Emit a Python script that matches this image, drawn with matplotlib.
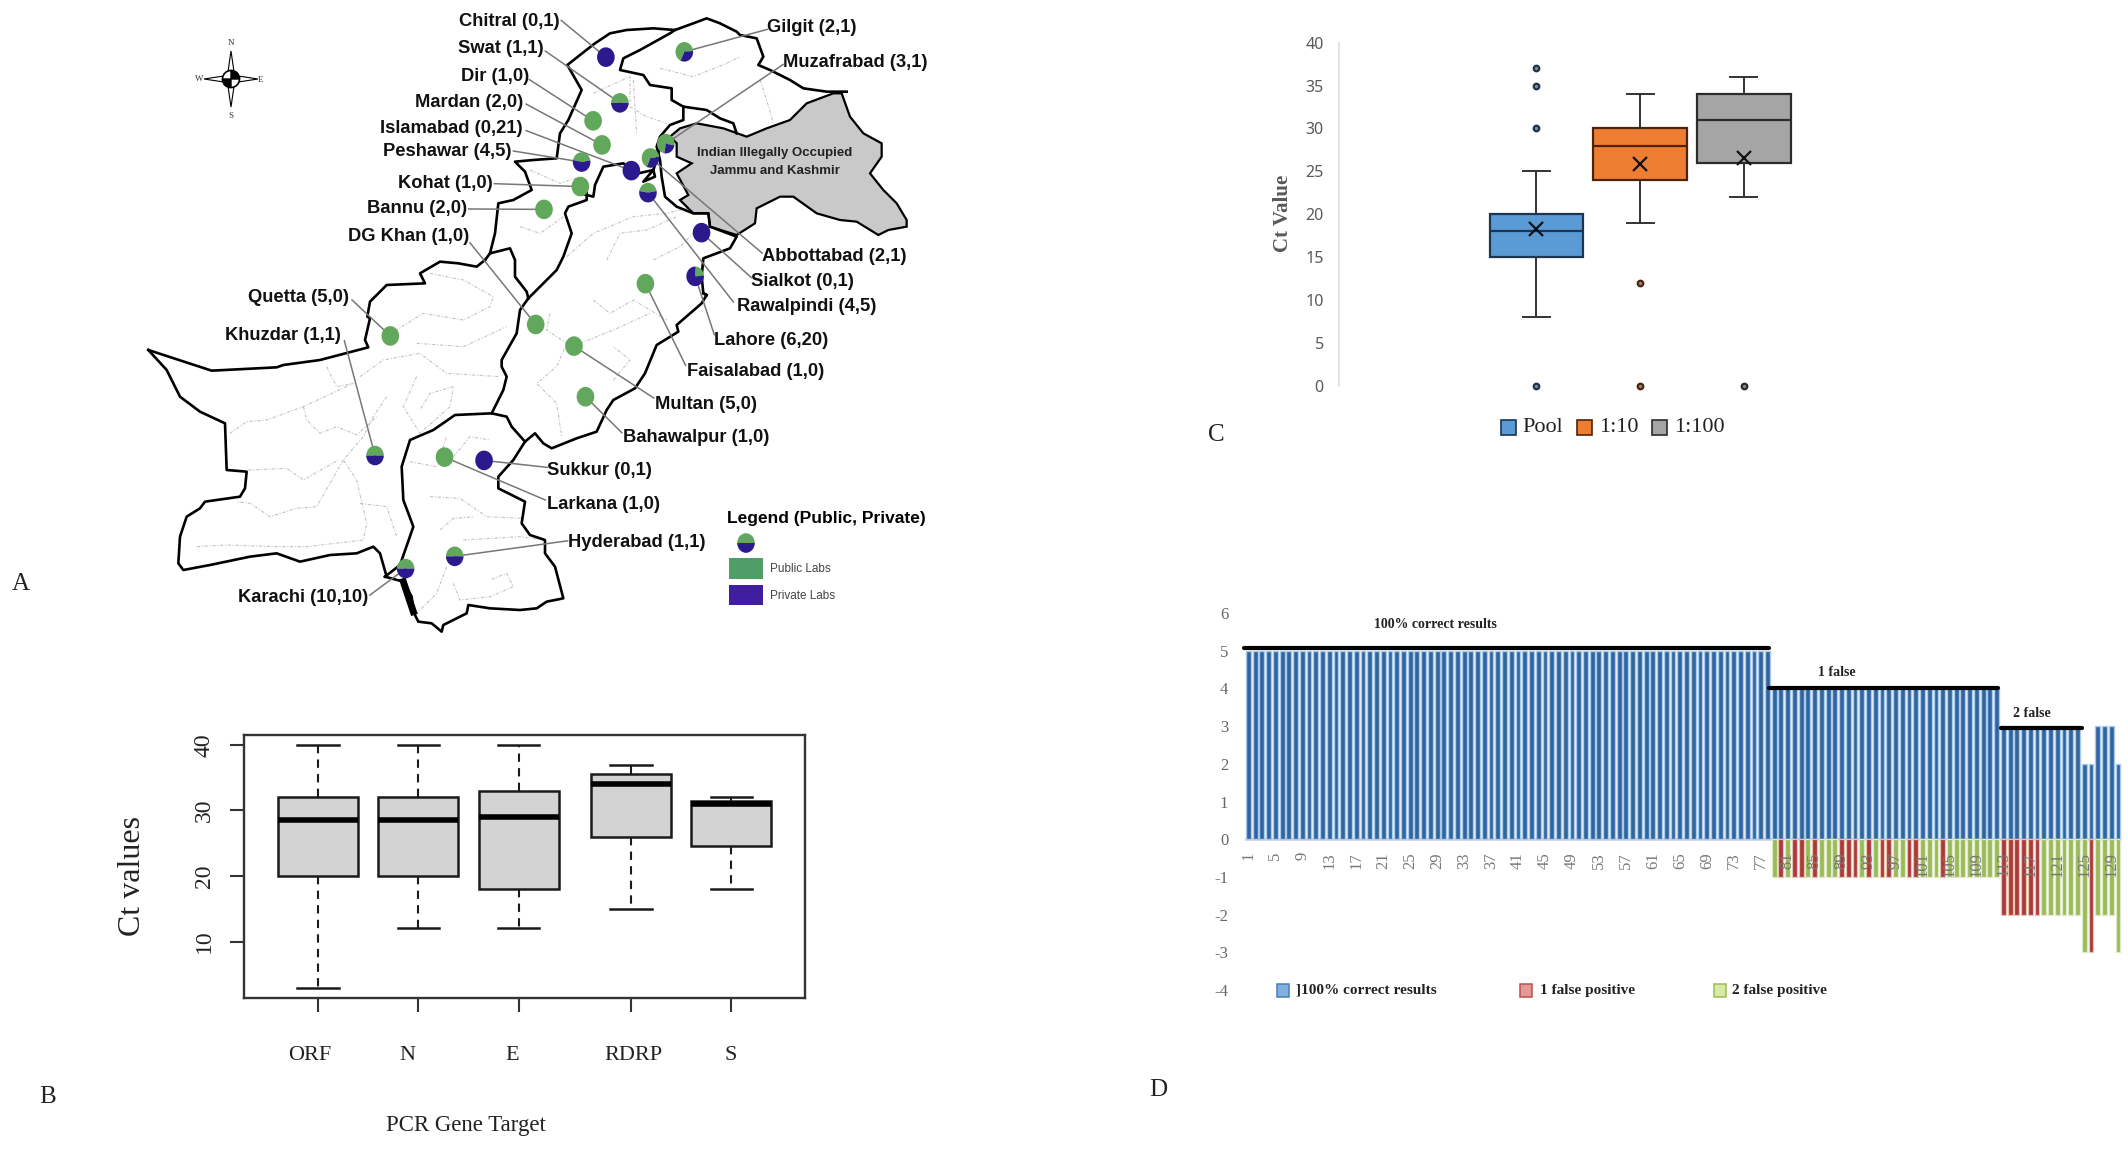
import matplotlib
matplotlib.use("Agg")
import matplotlib.pyplot as plt
from matplotlib.patches import Wedge, Rectangle, Polygon, Circle
from matplotlib.transforms import Affine2D

W, H = 2128, 1151
SERIF = "Liberation Serif"
SANS = "Liberation Sans"

# ---------------------------------------------------------------------
# A) map: labs per city (public, private)
# ---------------------------------------------------------------------
cities = ["Chitral", "Gilgit", "Swat", "Dir", "Mardan", "Islamabad", "Peshawar", "Kohat", "Bannu",
          "DG Khan", "Quetta", "Khuzdar", "Muzafrabad", "Abbottabad", "Sialkot", "Rawalpindi",
          "Lahore", "Faisalabad", "Multan", "Bahawalpur", "Sukkur", "Larkana", "Hyderabad", "Karachi"]
public_labs = [0, 2, 1, 1, 2, 0, 4, 1, 2, 1, 5, 1, 3, 2, 0, 4, 6, 1, 5, 1, 0, 1, 1, 10]
private_labs = [1, 1, 1, 0, 0, 21, 5, 0, 0, 0, 0, 1, 1, 1, 1, 5, 20, 0, 0, 0, 1, 0, 1, 10]
city_x = [950, 1073, 972, 930, 944, 990, 912, 910, 853, 840, 612, 588, 1044, 1020, 1100, 1016,
          1090, 1012, 900, 918, 759, 697, 713, 636]
city_y = [140, 127, 252, 296, 355, 418, 397, 457, 513, 795, 823, 1116, 352, 387, 570, 472,
          677, 695, 848, 972, 1128, 1120, 1363, 1393]
# label anchor: x, y, horizontal alignment
label_x = [878, 1203, 853, 830, 820, 820, 802, 772, 732, 735, 548, 535, 1228, 1195, 1178, 1155,
           1120, 1077, 1027, 977, 858, 857, 890, 578]
label_y = [53, 68, 120, 188, 250, 315, 372, 450, 512, 580, 728, 822, 152, 628, 690, 752,
           835, 910, 992, 1072, 1152, 1237, 1328, 1463]
label_ha = ["right", "left", "right", "right", "right", "right", "right", "right", "right", "right",
            "right", "right", "left", "left", "left", "left", "left", "left", "left", "left",
            "left", "left", "left", "right"]
leader_x = [880, 1203, 855, 830, 825, 825, 805, 775, 735, 737, 552, 540, 1228, 1195, 1178, 1150,
            1120, 1075, 1025, 975, 858, 855, 890, 580]
leader_y = [50, 72, 125, 195, 255, 320, 370, 450, 512, 595, 735, 835, 158, 620, 680, 740,
            820, 895, 975, 1060, 1145, 1225, 1325, 1458]
green_facing = {"Gilgit": 125, "Muzafrabad": 125, "Abbottabad": 125, "Lahore": 45}

kp_west_n = [(30, 760), (45, 700), (55, 610), (100, 600), (155, 570), (135, 515),
             (105, 485), (160, 480), (230, 475), (240, 400), (265, 360), (305, 270), (262, 195), (300, 165),
             (345, 130), (390, 100), (440, 90), (520, 85), (585, 90), (640, 70), (680, 55), (720, 70),
             (770, 95), (780, 105), (830, 115), (850, 170), (835, 195), (870, 210), (930, 240), (970, 265),
             (1040, 275), (1100, 275)]
baloch_kp_n = [(15, 780), (30, 760), (90, 745), (105, 780), (105, 830), (140, 875), (145, 895)]
gilgit_inner_n = [(585, 90), (570, 100), (480, 150), (430, 175), (420, 210), (490, 225), (510, 255), (575, 265),
                  (575, 300), (610, 320), (680, 330), (720, 355), (760, 370), (770, 400)]
ajk_n = [(610, 320), (610, 360), (570, 375), (540, 410), (530, 440), (540, 480), (545, 530), (555, 590),
         (590, 620), (640, 640), (685, 640), (690, 680)]
occupied_n = [(600, 385), (650, 370), (730, 385), (800, 410), (860, 385), (930, 360), (980, 310), (1060, 280),
              (1085, 280), (1110, 350), (1150, 400), (1205, 430), (1205, 470), (1170, 520), (1210, 570),
              (1250, 610), (1280, 660), (1280, 680), (1225, 690), (1195, 705), (1130, 665), (1080, 660),
              (1010, 640), (940, 590), (900, 590), (830, 625), (825, 670), (770, 705), (690, 680), (685, 640),
              (640, 640), (600, 600), (625, 585), (590, 520), (635, 490), (590, 470), (590, 430), (570, 410)]
kp_punjab_n = [(145, 895), (180, 860), (230, 810), (250, 770), (275, 700), (255, 640), (265, 620), (320, 600),
               (320, 570), (300, 580), (340, 590), (345, 555), (370, 500), (430, 490), (475, 520), (520, 510),
               (525, 530), (490, 545), (520, 510), (530, 480), (540, 440)]
punjab_india_n = [(690, 680), (770, 710), (750, 745), (670, 775), (665, 830), (670, 880), (680, 885)]
punjab_south_se = [(970, 40), (980, 45), (965, 70), (890, 135), (895, 155), (830, 195), (795, 280), (765, 325),
                   (700, 360), (680, 390), (650, 455), (590, 475), (515, 505), (490, 490), (465, 460), (435, 485),
                   (400, 540), (355, 590), (355, 625), (435, 665), (425, 730), (450, 765), (495, 780), (495, 820),
                   (525, 860), (550, 955), (500, 965), (470, 985), (420, 990), (330, 985), (265, 975), (260, 1000),
                   (190, 1035), (185, 1055), (155, 1030), (115, 1025), (100, 995), (95, 950), (70, 905), (15, 890)]
sindh_west_se = [(15, 890), (60, 855), (100, 740), (70, 660), (65, 560), (90, 480), (160, 450), (225, 405),
                 (335, 400), (380, 410), (395, 440), (435, 485)]
punjab_west_se = [(335, 400), (370, 330), (380, 290), (365, 260), (365, 240), (410, 160), (420, 90), (445, 55)]
baloch_north_sw = [(55, 270), (245, 332), (440, 322), (460, 315), (570, 300), (715, 262), (705, 240), (720, 175),
                   (712, 170), (720, 125), (770, 75), (885, 70), (870, 40), (930, 5), (985, 10), (1040, 20), (1065, 0)]
baloch_south_sw = [(55, 270), (110, 330), (150, 410), (210, 455), (285, 490), (290, 630), (350, 635), (345, 685),
                   (330, 710), (225, 725), (210, 745), (170, 770), (150, 830), (145, 910), (160, 930), (240, 915),
                   (360, 890), (440, 880), (510, 905), (600, 885), (680, 880), (730, 860), (750, 880), (770, 950)]
karachi_coast_se = [(70, 905), (85, 950), (100, 995)]
dashed_sw = [
    [(300, 520), (350, 485), (410, 480), (520, 440), (670, 370)],
    [(520, 440), (530, 480), (570, 520), (620, 500), (680, 525), (740, 470)],
    [(640, 600), (560, 740), (500, 745), (420, 770), (360, 730), (320, 725)],
    [(355, 630), (470, 625), (520, 660), (590, 620), (625, 600)],
    [(200, 860), (290, 855), (440, 860), (530, 860), (700, 840), (710, 790), (680, 660), (640, 600)],
    [(590, 320), (620, 380), (670, 370)],
    [(770, 410), (730, 470), (700, 530), (640, 600)],
    [(900, 40), (1000, 60), (1090, 110), (1080, 140), (1000, 180), (880, 160), (800, 210)],
    [(860, 250), (1000, 260), (1130, 200)],
    [(690, 350), (760, 300), (870, 280), (950, 340), (1110, 350)],
    [(860, 350), (820, 440), (870, 520), (960, 440), (970, 380), (900, 400), (870, 450)],
    [(690, 730), (770, 740), (800, 830)],
]
dashed_se = [
    [(510, 100), (500, 150), (560, 190), (530, 260), (470, 310), (530, 370), (545, 470)],
    [(600, 190), (700, 150), (810, 100)],
    [(700, 300), (750, 240), (700, 200)],
    [(90, 545), (170, 560), (200, 470)],
    [(220, 530), (270, 470), (330, 480)],
    [(150, 650), (240, 655), (320, 710), (425, 715)],
    [(180, 750), (220, 715), (280, 710)],
    [(200, 860), (170, 940), (110, 1000)],
    [(220, 910), (240, 960), (330, 950), (400, 920), (380, 880), (330, 900)],
    [(250, 780), (420, 770), (490, 780)],
    [(640, 60), (690, 100), (760, 60), (860, 120)],
]
dashed_n = [
    [(340, 280), (450, 230), (450, 320), (500, 350), (560, 370)],
    [(150, 510), (240, 550), (300, 530)],
    [(120, 680), (180, 700), (250, 650)],
    [(260, 770), (340, 700), (460, 650), (560, 640), (640, 620)],
    [(380, 780), (420, 700), (500, 690), (590, 650)],
    [(520, 780), (600, 740), (640, 700)],
    [(540, 205), (640, 230), (740, 190), (780, 170)],
    [(840, 240), (860, 300), (880, 370)],
    [(460, 240), (470, 400)],
]

# ---------------------------------------------------------------------
# B) Ct values per PCR gene target
# ---------------------------------------------------------------------
gene_targets = ["ORF", "N", "E", "RDRP", "S"]
gene_pos = [1, 2, 3, 4.12, 5.12]
gene_low = [3, 12, 12, 15, 18]
gene_q1 = [20, 20, 18, 26, 24.5]
gene_med = [28.5, 28.5, 29, 34, 31]
gene_q3 = [32, 32, 33, 35.5, 31.5]
gene_high = [40, 40, 40, 37, 32]
gene_label_px = [310, 407.5, 512, 633, 731]

# ---------------------------------------------------------------------
# C) Ct value per dilution
# ---------------------------------------------------------------------
dilutions = ["Pool", "1:10", "1:100"]
dil_low = [8, 19, 22]
dil_q1 = [15, 24, 26]
dil_med = [18, 28, 31]
dil_q3 = [20, 30, 34]
dil_high = [25, 34, 36]
dil_mean = [18.3, 25.8, 26.5]
dil_fliers = [[0, 30, 35, 37], [0, 12], [0]]
dil_fill = ["#5B9BD5", "#ED7D31", "#A5A5A5"]
dil_edge = ["#1c3550", "#4e2408", "#2b2b2b"]

# ---------------------------------------------------------------------
# D) per sample: correct results (up) and false results (down)
# ---------------------------------------------------------------------
correct = [5, 5, 5, 5, 5, 5, 5, 5, 5, 5, 5, 5, 5, 5, 5, 5, 5, 5, 5, 5, 5, 5, 5, 5, 5, 5,
           5, 5, 5, 5, 5, 5, 5, 5, 5, 5, 5, 5, 5, 5, 5, 5, 5, 5, 5, 5, 5, 5, 5, 5, 5, 5,
           5, 5, 5, 5, 5, 5, 5, 5, 5, 5, 5, 5, 5, 5, 5, 5, 5, 5, 5, 5, 5, 5, 5, 5, 5, 5,
           4, 4, 4, 4, 4, 4, 4, 4, 4, 4, 4, 4, 4, 4, 4, 4, 4, 4, 4, 4, 4, 4, 4, 4, 4, 4,
           4, 4, 4, 4, 4, 4, 4, 4,
           3, 3, 3, 3, 3, 3, 3, 3, 3, 3, 3, 3,
           2, 2, 3, 3, 3, 2]
false_first_sample = 79
false_vals = [-1, -1, -1, -1, -1, -1, -1, -1, -1, -1, -1, -1, -1, -1, -1, -1, -1,
              -1, -1, -1, -1, -1, -1, -1, -1, -1, -1, -1, -1, -1, -1, -1, -1, -1,
              -2, -2, -2, -2, -2, -2, -2, -2, -2, -2, -2, -2,
              -3, -3, -2, -2, -2, -3]
false_kind = ["g", "r", "g", "r", "r", "g", "r", "g", "g", "g", "r", "r", "r", "g", "r", "g", "r",
              "r", "g", "g", "r", "r", "g", "g", "g", "r", "g", "g", "g", "g", "g", "g", "g", "g",
              "r", "r", "r", "r", "r", "r", "g", "g", "g", "g", "g", "g",
              "g", "r", "g", "g", "g", "g"]
sample_ticks = [1, 5, 9, 13, 17, 21, 25, 29, 33, 37, 41, 45, 49, 53, 57, 61, 65, 69, 73, 77, 81, 85,
                89, 93, 97, 101, 105, 109, 113, 117, 121, 125, 129]

GREEN = "#62a85c"
NAVY = "#2b1a8e"


def px_axes(x0, y0, x1, y1):
    """axes from pixel box, y measured from the top"""
    a = fig.add_axes([x0 / W, 1 - y1 / H, (x1 - x0) / W, (y1 - y0) / H])
    a.patch.set_visible(False)
    return a


def crop(points):
    # overview crop was stretched: 1.568 in x, 2.45 in y
    return [(x / 1.568, y / 2.45) for x, y in points]


def n(points):
    return [(480 + x / 3, y / 3) for x, y in points]


def sw(points):
    return [(130 + x / 3, 260 + y / 3) for x, y in points]


def se(points):
    return [(380 + x / 3, 280 + y / 3) for x, y in points]


fig = plt.figure(figsize=(W / 100, H / 100), dpi=100, facecolor="white")
bg = fig.add_axes([0, 0, 1, 1])
bg.set_xlim(0, W)
bg.set_ylim(H, 0)
bg.axis("off")

# ---------------------------------------------------------------------
# panel A
# ---------------------------------------------------------------------
bg.add_patch(Polygon(n(occupied_n), closed=True, fc="#c9c9c9", ec="black", lw=1.6, zorder=2))
for line in [n(p) for p in dashed_n] + [sw(p) for p in dashed_sw] + [se(p) for p in dashed_se]:
    xs, ys = zip(*line)
    bg.plot(xs, ys, color="#c4c4c4", lw=0.8, ls=(0, (3, 1.5, 1, 1.5)), zorder=1)
borders = [n(kp_west_n), n(baloch_kp_n), n(gilgit_inner_n), n(ajk_n), n(kp_punjab_n), n(punjab_india_n),
           se(punjab_south_se), se(sindh_west_se), se(punjab_west_se),
           sw(baloch_north_sw), sw(baloch_south_sw)]
for line in borders:
    xs, ys = zip(*line)
    bg.plot(xs, ys, color="black", lw=1.9, zorder=3, solid_joinstyle="round")
xs, ys = zip(*se(karachi_coast_se))
bg.plot(xs, ys, color="black", lw=5, zorder=3)

for i, name in enumerate(cities):
    x, y = crop([(city_x[i], city_y[i])])[0]
    lx, ly = crop([(leader_x[i], leader_y[i])])[0]
    bg.plot([lx, x], [ly, y], color="#777777", lw=1.1, zorder=4)
    share = public_labs[i] / (public_labs[i] + private_labs[i])
    mid = green_facing.get(name, 90)
    tr = Affine2D().scale(8.8, -9.8).translate(x, y) + bg.transData
    if share > 0:
        bg.add_patch(Wedge((0, 0), 1, mid - 180 * share, mid + 180 * share, fc=GREEN, ec="none", transform=tr, zorder=5))
    if share < 1:
        bg.add_patch(Wedge((0, 0), 1, mid + 180 * share, mid + 360 - 180 * share, fc=NAVY, ec="none", transform=tr, zorder=5))
    tx, ty = crop([(label_x[i], label_y[i])])[0]
    bg.text(tx, ty, f"{name} ({public_labs[i]},{private_labs[i]})", ha=label_ha[i], va="center",
            fontsize=13.2, fontweight="bold", family=SANS, color="#111111", zorder=6)

bg.text(775, 153, "Indian Illegally Occupied", ha="center", va="center", fontsize=9.5, fontweight="bold",
        family=SANS, color="#222222", zorder=6)
bg.text(775, 171, "Jammu and Kashmir", ha="center", va="center", fontsize=9.5, fontweight="bold",
        family=SANS, color="#222222", zorder=6)

# map legend
bg.text(727, 518, "Legend (Public, Private)", ha="left", va="center", fontsize=12.5, fontweight="bold", family=SANS)
tr = Affine2D().scale(8.8, -9.8).translate(746, 543) + bg.transData
bg.add_patch(Wedge((0, 0), 1, 0, 180, fc=GREEN, ec="none", transform=tr))
bg.add_patch(Wedge((0, 0), 1, 180, 360, fc=NAVY, ec="none", transform=tr))
bg.add_patch(Rectangle((729, 558), 34, 21, fc="#4f9e68", ec="none"))
bg.add_patch(Rectangle((729, 585), 34, 20, fc="#3f1f9f", ec="none"))
bg.text(770, 569, "Public Labs", ha="left", va="center", fontsize=8.5, family=SANS, color="#444444")
bg.text(770, 596, "Private Labs", ha="left", va="center", fontsize=8.5, family=SANS, color="#444444")

# compass
cx, cy = 231, 79
bg.add_patch(Polygon([(cx - 3.5, cy - 4), (cx, cy - 28), (cx + 3.5, cy - 4)], fc="white", ec="black", lw=0.8))
bg.add_patch(Polygon([(cx - 3.5, cy + 4), (cx, cy + 28), (cx + 3.5, cy + 4)], fc="white", ec="black", lw=0.8))
bg.add_patch(Polygon([(cx - 4, cy - 3.5), (cx - 27, cy), (cx - 4, cy + 3.5)], fc="white", ec="black", lw=0.8))
bg.add_patch(Polygon([(cx + 4, cy - 3.5), (cx + 27, cy), (cx + 4, cy + 3.5)], fc="white", ec="black", lw=0.8))
bg.add_patch(Circle((cx, cy), 8.5, fc="white", ec="black", lw=1.2, zorder=3))
bg.add_patch(Wedge((cx, cy), 8.5, 270, 360, fc="black", ec="black", zorder=4))
bg.add_patch(Wedge((cx, cy), 8.5, 90, 180, fc="black", ec="black", zorder=4))
for t, px, py in [("N", 231, 43), ("S", 231, 116), ("W", 199, 79), ("E", 261, 80)]:
    bg.text(px, py, t, ha="center", va="center", fontsize=6.5, family=SERIF, color="#333333")

# panel letters
for t, px, py in [("A", 21, 584), ("B", 48, 1097), ("C", 1216, 435), ("D", 1158, 1090)]:
    bg.text(px, py, t, ha="center", va="center", fontsize=18, family=SERIF, color="#222222")

# ---------------------------------------------------------------------
# panel B
# ---------------------------------------------------------------------
ax_b = px_axes(244, 735, 805, 998)
stats_b = [dict(med=m, q1=a, q3=b, whislo=lo, whishi=hi, fliers=[])
           for lo, a, m, b, hi in zip(gene_low, gene_q1, gene_med, gene_q3, gene_high)]
ax_b.bxp(stats_b, positions=gene_pos, widths=0.8, capwidths=0.41, patch_artist=True,
         boxprops=dict(facecolor="#d3d3d3", edgecolor="#1a1a1a", linewidth=1.8),
         medianprops=dict(color="black", linewidth=4, solid_capstyle="butt"),
         whiskerprops=dict(color="#1a1a1a", linewidth=1.5, linestyle=(0, (4, 3))),
         capprops=dict(color="#1a1a1a", linewidth=1.8))
ax_b.set_xlim(0.262, 5.855)
ax_b.set_ylim(1.4, 41.5)
ax_b.set_xticks(gene_pos)
ax_b.set_xticklabels([])
ax_b.set_yticks([10, 20, 30, 40])
ax_b.tick_params(axis="x", length=10, width=1.5, color="#333333")
ax_b.tick_params(axis="y", length=10, width=1.5, color="#333333", pad=11, labelsize=17, labelrotation=90)
for lab in ax_b.get_yticklabels():
    lab.set_va("center")
    lab.set_family(SERIF)
    lab.set_color("#222222")
for side in ax_b.spines.values():
    side.set_linewidth(1.7)
    side.set_color("#333333")
for name, px in zip(gene_targets, gene_label_px):
    bg.text(px, 1055, name, ha="center", va="center", fontsize=16, family=SERIF, color="#222222")
bg.text(133, 876, "Ct values", rotation=90, ha="center", va="center", fontsize=23, family=SERIF, color="#222222")
bg.text(466, 1125, "PCR Gene Target", ha="center", va="center", fontsize=16.5, family=SERIF, color="#222222")

# ---------------------------------------------------------------------
# panel C
# ---------------------------------------------------------------------
ax_c = px_axes(1339, 42.7, 1941, 385.7)
stats_c = [dict(med=dil_med[i], q1=dil_q1[i], q3=dil_q3[i], whislo=dil_low[i], whishi=dil_high[i],
                fliers=dil_fliers[i], mean=dil_mean[i]) for i in range(3)]
parts = ax_c.bxp(stats_c, positions=[1, 2, 3], widths=0.9, capwidths=0.26, patch_artist=True, showmeans=True,
                 meanprops=dict(marker="x", markersize=10, markeredgewidth=1.6, markeredgecolor="#111111"),
                 flierprops=dict(marker="o", markersize=4, markerfacecolor="#8a8a8a", markeredgewidth=1.6),
                 whiskerprops=dict(color="#333333", linewidth=1.4),
                 capprops=dict(color="#333333", linewidth=1.4))
for i in range(3):
    parts["boxes"][i].set(facecolor=dil_fill[i], edgecolor=dil_edge[i], linewidth=1.6)
    parts["medians"][i].set(color=dil_edge[i], linewidth=1.6)
    parts["fliers"][i].set(markeredgecolor=dil_edge[i], clip_on=False)
ax_c.set_xlim(-0.903, 4.9)
ax_c.set_ylim(0, 40)
ax_c.set_xticks([])
ax_c.set_yticks(range(0, 41, 5))
ax_c.tick_params(axis="y", length=0, pad=11, labelsize=11.5, labelcolor="#595959")
for lab in ax_c.get_yticklabels():
    lab.set_family("Noto Sans")
for side in ["top", "right", "bottom"]:
    ax_c.spines[side].set_visible(False)
ax_c.spines["left"].set_color("#e2e2e2")
ax_c.spines["left"].set_linewidth(1.3)
bg.text(1283, 213, "Ct Value", rotation=90, ha="center", va="center", fontsize=15, fontweight="bold",
        family=SERIF, color="#595959")
for name, fill, edge, sq, tx in zip(dilutions, dil_fill, dil_edge, [1501, 1577, 1652], [1522, 1599, 1674]):
    bg.add_patch(Rectangle((sq, 420), 15, 15, fc=fill, ec=edge, lw=1.2))
    bg.text(tx, 427, name, ha="left", va="center", fontsize=16, family=SERIF, color="#222222")

# ---------------------------------------------------------------------
# panel D
# ---------------------------------------------------------------------
ax_d = px_axes(1245, 613, 2122, 990)
samples = list(range(1, len(correct) + 1))
ax_d.bar(samples, correct, width=0.72, color="#2f64a0", edgecolor="#a9cbe8", linewidth=1.0)
false_samples = [false_first_sample + i for i in range(len(false_vals))]
false_colors = ["#ab3a3a" if k == "r" else "#9bbb59" for k in false_kind]
false_edges = ["#e6c4b0" if k == "r" else "#dfe9c8" for k in false_kind]
ax_d.bar(false_samples, false_vals, width=0.72, color=false_colors, edgecolor=false_edges, linewidth=0.9)
ax_d.axhline(0, color="#d5dbe3", lw=2, zorder=0)
ax_d.set_xlim(0.5, 130.6)
ax_d.set_ylim(-4, 6)
ax_d.set_xticks([])
ax_d.set_yticks(range(-4, 7))
ax_d.set_yticklabels([str(v) for v in range(-4, 7)], family=SERIF, fontsize=12, color="#666666")
ax_d.tick_params(axis="y", length=0, pad=12)
for side in ax_d.spines.values():
    side.set_visible(False)
# sample numbers sit right under the zero line, over the false bars
for s in sample_ticks:
    ax_d.text(s, -0.34, str(s), rotation=90, ha="center", va="top", fontsize=12, family=SERIF,
              color="#777777", zorder=6)
ax_d.plot([0.4, 78.3], [5.07, 5.07], color="black", lw=3, solid_capstyle="round", clip_on=False)
ax_d.plot([78.3, 112.2], [4.0, 4.0], color="black", lw=3, solid_capstyle="round")
ax_d.plot([112.6, 124.7], [2.96, 2.96], color="black", lw=3, solid_capstyle="round")
bg.text(1435, 624, "100% correct results", ha="center", va="center", fontsize=10, fontweight="bold", family=SERIF, color="#222222")
bg.text(1837, 672, "1 false", ha="center", va="center", fontsize=10, fontweight="bold", family=SERIF, color="#222222")
bg.text(2032, 713, "2 false", ha="center", va="center", fontsize=10, fontweight="bold", family=SERIF, color="#222222")
for sq, tx, fill, edge, name in [(1277, 1296, "#7fb0e0", "#4a7ebb", "]100% correct results"),
                                 (1520, 1540, "#e59a9a", "#c0504d", "1 false positive"),
                                 (1714, 1732, "#d7eaa6", "#9bbb59", "2 false positive")]:
    bg.add_patch(Rectangle((sq, 984), 12, 13, fc=fill, ec=edge, lw=1.1))
    bg.text(tx, 990, name, ha="left", va="center", fontsize=11, fontweight="bold", family=SERIF, color="#222222")

fig.savefig("out.png", dpi=100)
